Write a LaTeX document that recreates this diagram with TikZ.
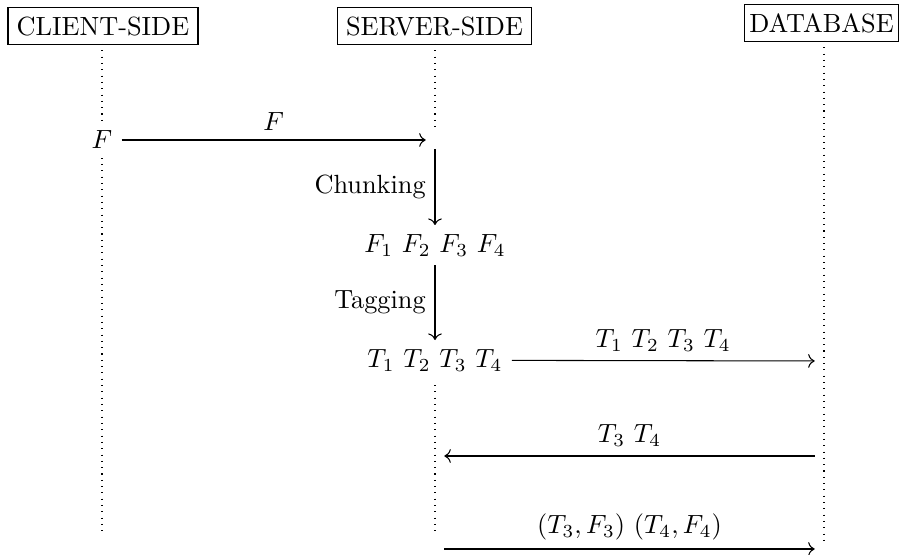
\documentclass[tikz,border=0pt]{standalone}
\usetikzlibrary{arrows.meta}
\begin{document}
\begin{tikzpicture}[x=0.38pt,y=-0.38pt,
  actor/.style={draw,fill=white,inner sep=3.33pt},
  lifeline/.style={dotted},
  msg/.style={->},
  hop/.style={inner sep=3.33pt},
  event/.style={inner sep=3.33pt,fill=white},
  stepmsg/.style={->}]
\useasboundingbox (0,0) rectangle (900,555);

% participants
\node[actor] (cl) at (103,26.3) {CLIENT-SIDE};
\node[actor] (sv) at (434.5,26.3) {SERVER-SIDE};
\node[actor,inner xsep=1.9pt] (db) at (821.5,23.4) {DATABASE};

% lifelines
\coordinate (clEnd) at (102,535);
\coordinate (svEnd) at (435,535);
\coordinate (dbEnd) at (824,540);
\coordinate (clTop) at (102,44);
\coordinate (svTop) at (435,44);
\coordinate (dbTop) at (824,41);
\draw[lifeline] (clTop) -- (clEnd);
\draw[lifeline] (svTop) -- (svEnd);
\draw[lifeline] (dbTop) -- (dbEnd);

% events on the lifelines
\node[event] (cF) at (102,140) {$F$};
\node[hop,fill=white] (s1) at (435,140) {};
\node[event,anchor=north] (fr) at (435,225) {$F_1\ F_2\ F_3\ F_4$};
\node[event,anchor=north] (tr) at (435,340) {$T_1\ T_2\ T_3\ T_4$};
\node[hop] (d1) at (824,361) {};
\node[hop] (d2) at (824,456) {};
\node[hop] (s2) at (435,456) {};
\node[hop] (s3) at (435,549) {};
\node[hop] (d3) at (824,549) {};

% messages
\draw[msg] (cF) -- node[above] {$F$} (s1);
\draw[stepmsg] (s1) -- node[left] {Chunking} (fr);
\draw[stepmsg] (fr) -- node[left] {Tagging} (tr);
\draw[msg] (tr) -- node[above] {$T_1\ T_2\ T_3\ T_4$} (d1);
\draw[msg] (d2) -- node[above] {$T_3\ T_4$} (s2);
\draw[msg] (s3) -- node[above] {$(T_3,F_3)\ (T_4,F_4)$} (d3);
\end{tikzpicture}
\end{document}
